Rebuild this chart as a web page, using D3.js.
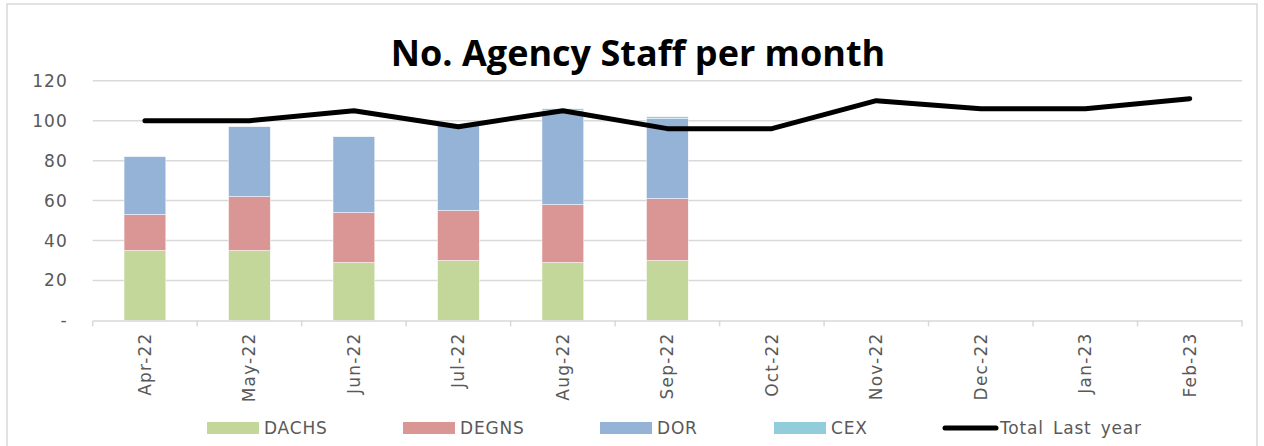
<!DOCTYPE html>
<html>
<head>
    <meta charset="utf-8" />
    <title>No. Agency Staff per month</title>
    <script src="https://d3js.org/d3.v7.min.js"></script>
    <style>
        body { margin: 0; background: #fff; }
        svg { display: block; }
    </style>
</head>
<body>
    <svg id="chart" width="1264" height="446"></svg>
    <script>
        // data
        var months = ["Apr-22", "May-22", "Jun-22", "Jul-22", "Aug-22", "Sep-22",
                      "Oct-22", "Nov-22", "Dec-22", "Jan-23", "Feb-23"];
        var dachs = [35, 35, 29, 30, 29, 30];
        var degns = [18, 27, 25, 25, 29, 31];
        var dor = [29, 35, 38, 43, 47, 40];
        var cex = [0, 0, 0, 0, 1, 1];
        var totalLastYear = [100, 100, 105, 97, 105, 96, 96, 110, 106, 106, 111];
        var yTicks = [0, 20, 40, 60, 80, 100, 120];

        var seriesNames = ["DACHS", "DEGNS", "DOR", "CEX"];
        var colors = { DACHS: "#c4d79b", DEGNS: "#da9694", DOR: "#95b3d7", CEX: "#92cddc" };
        var textColor = "#595959";
        var gridColor = "#d9d9d9";
        var labelFont = "DejaVu Sans";

        var svg = d3.select("#chart");

        // outer chart border
        svg.append("rect")
            .attr("x", 7).attr("y", 4)
            .attr("width", 1250).attr("height", 460)
            .attr("fill", "none")
            .attr("stroke", gridColor)
            .attr("stroke-width", 1.5);

        var plotLeft = 92.7, plotRight = 1242, plotTop = 80.7, plotBottom = 320.5;

        var x = d3.scaleBand().domain(months).range([plotLeft, plotRight]);
        var y = d3.scaleLinear().domain([0, 120]).range([plotBottom, plotTop]);

        // gridlines
        svg.append("g")
            .selectAll("line")
            .data(yTicks.filter(function (d) { return d > 0; }))
            .enter().append("line")
            .attr("x1", plotLeft).attr("x2", plotRight)
            .attr("y1", function (d) { return y(d); })
            .attr("y2", function (d) { return y(d); })
            .attr("stroke", gridColor)
            .attr("stroke-width", 1.5);

        // y axis labels
        var yAxis = d3.axisLeft(y)
            .tickValues(yTicks)
            .tickSize(0)
            .tickPadding(25)
            .tickFormat(function (d) { return d === 0 ? "-" : d; });
        var yg = svg.append("g").attr("transform", "translate(" + plotLeft + ",0)").call(yAxis);
        yg.select(".domain").remove();
        yg.selectAll("text")
            .attr("fill", textColor)
            .style("font-family", labelFont)
            .style("font-size", "17px")
            .style("letter-spacing", "1px");

        // stacked bars
        var rows = dachs.map(function (d, i) {
            return { month: months[i], DACHS: dachs[i], DEGNS: degns[i], DOR: dor[i], CEX: cex[i] };
        });
        var stack = d3.stack().keys(seriesNames)(rows);

        var barW = x.bandwidth() * 0.4;
        svg.append("g")
            .selectAll("g")
            .data(stack)
            .enter().append("g")
            .attr("fill", function (s) { return colors[s.key]; })
            .selectAll("rect")
            .data(function (s) { return s; })
            .enter().append("rect")
            .attr("x", function (d) { return x(d.data.month) + (x.bandwidth() - barW) / 2; })
            .attr("y", function (d) { return y(d[1]); })
            .attr("width", barW)
            .attr("height", function (d) { return y(d[0]) - y(d[1]); })
            .attr("stroke", "#fff")
            .attr("stroke-width", 0.5);

        // x axis
        var xAxis = d3.axisBottom(x).tickSize(0).tickPadding(12);
        var xg = svg.append("g").attr("transform", "translate(0," + plotBottom + ")").call(xAxis);
        xg.select(".domain").attr("stroke", gridColor).attr("stroke-width", 1.5);
        xg.selectAll("text")
            .attr("fill", textColor)
            .style("font-family", labelFont)
            .style("font-size", "17px")
            .style("letter-spacing", "1.2px")
            .attr("transform", "rotate(-90)")
            .attr("text-anchor", "end")
            .attr("x", -12)
            .attr("y", 0)
            .attr("dy", "0.35em");
        // tick marks at band edges
        svg.append("g")
            .selectAll("line")
            .data(months.concat(["end"]))
            .enter().append("line")
            .attr("x1", function (d, i) { return plotLeft + i * x.step(); })
            .attr("x2", function (d, i) { return plotLeft + i * x.step(); })
            .attr("y1", plotBottom).attr("y2", plotBottom + 6)
            .attr("stroke", gridColor)
            .attr("stroke-width", 1.5);

        // total last year line
        var line = d3.line()
            .x(function (d, i) { return x(months[i]) + x.bandwidth() / 2; })
            .y(function (d) { return y(d); });
        svg.append("path")
            .datum(totalLastYear)
            .attr("d", line)
            .attr("fill", "none")
            .attr("stroke", "#000")
            .attr("stroke-width", 5)
            .attr("stroke-linejoin", "round")
            .attr("stroke-linecap", "round");

        // title
        svg.append("text")
            .attr("x", 638).attr("y", 66)
            .attr("text-anchor", "middle")
            .style("font-family", "Open Sans")
            .style("font-weight", "bold")
            .style("font-size", "36px")
            .attr("fill", "#000")
            .text("No. Agency Staff per month");

        // legend
        var legendItems = [
            { name: "DACHS", x: 207, type: "rect" },
            { name: "DEGNS", x: 403, type: "rect" },
            { name: "DOR", x: 600, type: "rect" },
            { name: "CEX", x: 774, type: "rect" },
            { name: "Total Last year", x: 943, type: "line" }
        ];
        var lg = svg.append("g");
        legendItems.forEach(function (it) {
            if (it.type === "rect") {
                lg.append("rect")
                    .attr("x", it.x).attr("y", 422)
                    .attr("width", 52).attr("height", 12)
                    .attr("fill", colors[it.name]);
            } else {
                lg.append("line")
                    .attr("x1", it.x + 2).attr("x2", it.x + 53)
                    .attr("y1", 428).attr("y2", 428)
                    .attr("stroke", "#000")
                    .attr("stroke-width", 5)
                    .attr("stroke-linecap", "round");
            }
            lg.append("text")
                .attr("x", it.x + 57).attr("y", 428)
                .attr("dy", "0.35em")
                .attr("fill", textColor)
                .style("font-family", labelFont)
                .style("font-size", "17px")
                .style("letter-spacing", "0.8px")
                .style("word-spacing", "3px")
                .text(it.name);
        });
    </script>
</body>
</html>
